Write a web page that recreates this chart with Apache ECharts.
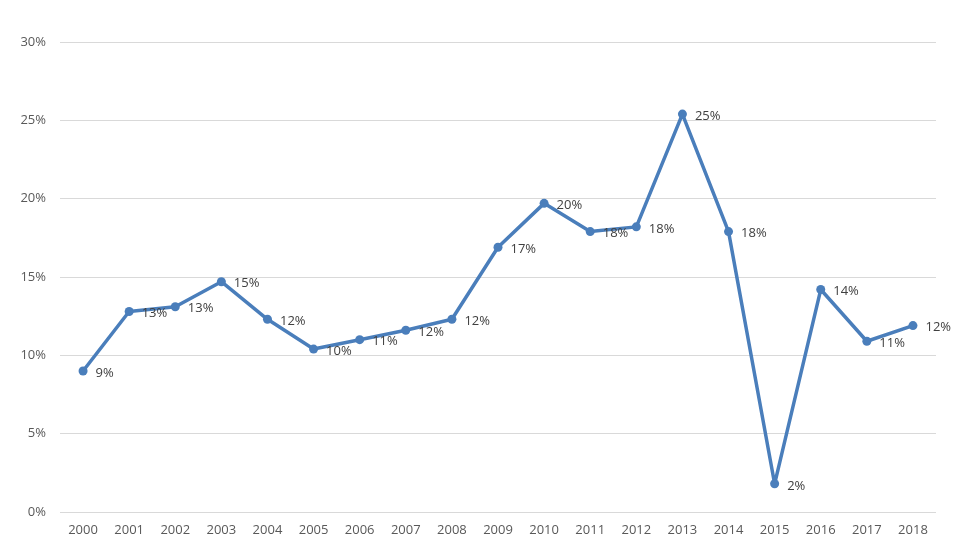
<!DOCTYPE html>
<html>
<head>
<meta charset="utf-8">
<script src="https://cdn.jsdelivr.net/npm/echarts@6/dist/echarts.min.js"></script>
<style>
  html, body { margin: 0; padding: 0; background: #fff; }
  #chart { width: 965px; height: 557px; }
</style>
</head>
<body>
<div id="chart"></div>
<script>
  // years on the x axis
  const years = ['2000', '2001', '2002', '2003', '2004', '2005', '2006', '2007', '2008', '2009',
    '2010', '2011', '2012', '2013', '2014', '2015', '2016', '2017', '2018']
  // growth rate, percent
  const rates = [9.0, 12.8, 13.1, 14.7, 12.3, 10.4, 11.0, 11.6, 12.3, 16.9,
    19.7, 17.9, 18.2, 25.4, 17.9, 1.8, 14.2, 10.9, 11.9]

  let elem = echarts.init(document.getElementById('chart'))
  let option = {
    animation: false,
    textStyle: { fontFamily: 'Open Sans' },
    grid: { left: 60, right: 29, top: 42, bottom: 45 },
    xAxis: {
      type: 'category',
      data: years,
      boundaryGap: true,
      axisLine: { show: false },
      axisTick: { show: false },
      axisLabel: { color: '#595959', fontSize: 13, margin: 12 }
    },
    yAxis: {
      type: 'value',
      min: 0,
      max: 30,
      interval: 5,
      axisLine: { show: false },
      axisTick: { show: false },
      axisLabel: { color: '#595959', fontSize: 13, margin: 14, formatter: '{value}%' },
      splitLine: { lineStyle: { color: '#d9d9d9', width: 1 } }
    },
    series: [
      {
        type: 'line',
        data: rates,
        symbol: 'circle',
        symbolSize: 9,
        lineStyle: { color: '#4a7ebb', width: 3.5 },
        itemStyle: { color: '#4a7ebb' },
        label: {
          show: true,
          position: 'right',
          distance: 8,
          offset: [0, 2],
          color: '#404040',
          fontSize: 13,
          formatter: (p) => Math.round(p.value) + '%'
        }
      }
    ]
  }
  elem.setOption(option)
</script>
</body>
</html>
